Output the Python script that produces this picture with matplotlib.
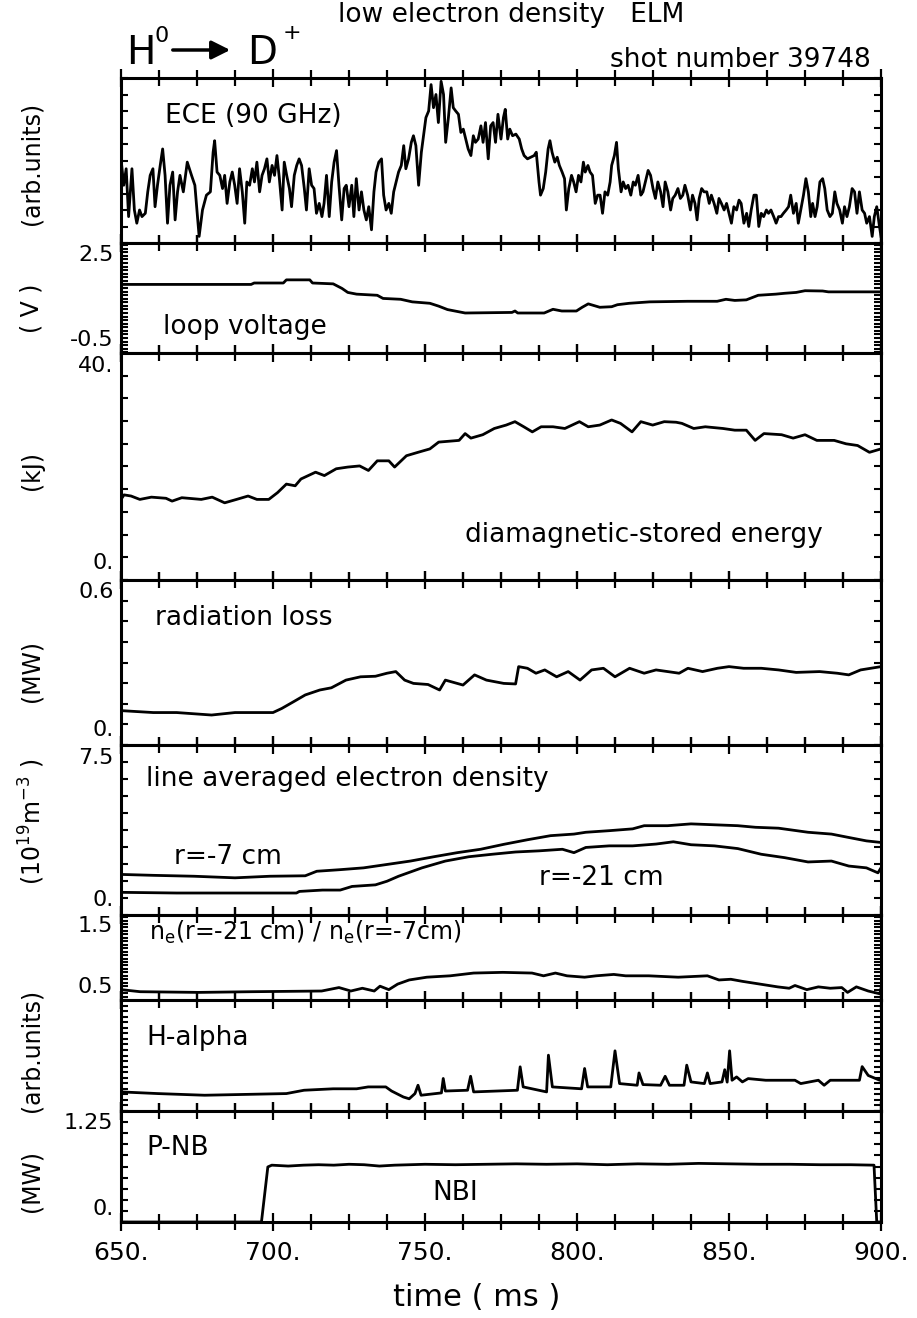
import numpy as np
import matplotlib
matplotlib.use('Agg')
from matplotlib import pyplot as plt
from matplotlib.ticker import MultipleLocator, NullLocator
from matplotlib.patches import FancyArrowPatch

# ---- data (time in ms, value) ----
ece = [(650.0, 5.1), (650.9, 3.5), (651.7, 4.5), (652.5, 1.6), (653.6, 4.5), (654.4, 2.0), (655.2, 1.2),
       (656.1, 2.0), (656.9, 1.6), (658.0, 1.8), (658.8, 3.1), (659.6, 4.1), (660.5, 4.5), (661.2, 2.2),
       (662.0, 3.5), (662.9, 4.7), (663.7, 5.7), (664.5, 4.1), (665.3, 1.2), (666.1, 3.5), (667.0, 4.3),
       (667.8, 1.4), (668.6, 3.1), (669.4, 4.1), (670.5, 3.1), (671.8, 4.9), (673.2, 4.1), (674.3, 3.5),
       (675.7, 0.4), (676.8, 2.0), (678.1, 2.9), (679.4, 3.1), (680.3, 5.5), (680.8, 6.2), (681.6, 4.3),
       (682.5, 4.1), (683.4, 3.3), (684.1, 4.1), (684.9, 2.4), (685.8, 3.7), (686.6, 4.3), (687.4, 3.5),
       (688.2, 2.4), (689.0, 4.5), (689.9, 3.1), (690.7, 1.2), (691.4, 3.7), (692.3, 3.5), (693.2, 4.5),
       (693.9, 3.7), (694.7, 4.9), (695.6, 3.1), (696.4, 4.1), (697.2, 4.5), (698.0, 5.1), (698.8, 3.7),
       (699.7, 4.7), (700.5, 4.1), (701.3, 5.3), (702.1, 3.9), (703.0, 2.0), (703.7, 4.9), (704.5, 4.1),
       (705.4, 3.3), (706.1, 2.2), (707.0, 4.1), (707.8, 4.7), (708.6, 5.1), (709.4, 4.7), (710.3, 3.3),
       (711.0, 2.0), (711.9, 4.5), (712.7, 3.5), (713.5, 3.3), (714.3, 1.8), (715.2, 2.4), (716.1, 1.6),
       (716.8, 2.4), (717.6, 4.1), (718.5, 1.6), (719.3, 3.7), (720.1, 4.9), (720.9, 5.6), (721.7, 3.5),
       (722.6, 1.4), (723.4, 3.3), (724.1, 3.5), (725.0, 2.2), (725.9, 3.5), (726.6, 1.6), (727.4, 3.9),
       (728.3, 2.0), (729.1, 3.1), (729.9, 2.0), (730.7, 1.4), (731.5, 2.2), (732.4, 0.8), (733.2, 3.1),
       (733.9, 4.3), (734.8, 4.9), (735.7, 5.1), (736.4, 2.9), (737.2, 2.0), (738.1, 2.4), (738.9, 1.8),
       (739.7, 3.1), (740.5, 3.7), (741.3, 4.3), (742.2, 4.7), (743.0, 5.9), (743.7, 4.5), (744.6, 5.1),
       (745.5, 6.1), (746.2, 6.5), (747.0, 5.9), (747.9, 3.5), (748.8, 5.5), (749.5, 6.5), (750.3, 7.6),
       (751.2, 8.0), (752.0, 9.6), (752.8, 8.2), (753.6, 9.0), (754.4, 7.3), (755.3, 9.8), (756.1, 9.0),
       (756.8, 6.1), (757.7, 7.6), (758.6, 9.4), (759.3, 8.2), (760.1, 8.0), (761.0, 7.8), (761.8, 6.7),
       (762.6, 6.9), (763.4, 6.3), (764.2, 5.7), (765.1, 5.3), (765.9, 6.5), (766.6, 6.1), (767.5, 6.3),
       (768.4, 7.1), (769.1, 6.1), (769.9, 7.3), (770.8, 5.1), (771.6, 7.1), (772.4, 7.3), (773.2, 6.1),
       (774.0, 7.8), (775.0, 6.3), (775.8, 7.6), (776.4, 8.1), (777.2, 6.3), (777.9, 6.9), (778.8, 6.5),
       (779.9, 6.6), (781.0, 6.3), (781.8, 5.7), (782.6, 5.3), (783.7, 5.1), (784.8, 5.2), (785.9, 5.3),
       (786.6, 5.5), (787.5, 3.7), (788.0, 2.9), (788.9, 3.3), (789.7, 4.3), (790.5, 5.7), (791.1, 6.2),
       (791.8, 5.5), (792.7, 4.9), (793.5, 5.2), (794.2, 4.7), (795.1, 4.3), (795.9, 3.9), (796.5, 2.0),
       (797.3, 3.3), (798.2, 4.1), (798.9, 3.7), (799.7, 3.1), (800.5, 4.1), (801.3, 3.7), (802.1, 4.9),
       (802.7, 4.3), (803.6, 4.7), (804.3, 4.3), (805.1, 4.1), (806.0, 2.4), (806.8, 2.9), (807.6, 2.9),
       (808.4, 1.8), (809.2, 3.1), (810.1, 2.9), (810.9, 3.7), (811.4, 4.7), (812.3, 5.3), (813.0, 6.1),
       (813.6, 4.5), (814.5, 3.1), (815.2, 3.7), (816.0, 3.3), (816.8, 3.5), (817.7, 2.9), (818.5, 3.7),
       (819.2, 3.5), (820.1, 4.1), (821.0, 2.9), (821.7, 3.1), (822.5, 3.7), (823.4, 4.4), (824.2, 4.1),
       (825.0, 3.3), (825.8, 2.7), (826.6, 3.7), (827.5, 3.1), (828.3, 2.2), (829.0, 3.7), (829.9, 3.1),
       (830.8, 2.0), (831.5, 2.7), (832.3, 2.9), (833.2, 3.3), (834.0, 2.7), (834.8, 2.9), (835.5, 3.5),
       (836.4, 2.9), (837.3, 2.0), (838.0, 2.9), (838.8, 2.4), (839.5, 1.4), (840.2, 2.7), (841.0, 3.3),
       (841.8, 3.1), (842.7, 3.1), (843.5, 2.4), (844.2, 2.9), (845.1, 2.4), (846.0, 1.8), (846.7, 2.7),
       (847.5, 2.4), (848.4, 2.0), (849.2, 2.4), (850.0, 1.8), (850.8, 1.2), (851.6, 2.2), (852.5, 2.0),
       (853.3, 2.6), (854.0, 2.4), (854.9, 1.2), (855.8, 1.8), (856.5, 1.0), (857.3, 2.0), (858.2, 2.9),
       (859.0, 2.9), (859.8, 1.0), (860.6, 1.8), (861.4, 1.6), (862.3, 2.0), (863.0, 1.8), (863.8, 2.0),
       (864.7, 1.6), (865.5, 1.2), (866.3, 1.6), (867.1, 1.6), (867.9, 1.8), (868.8, 2.0), (869.6, 2.2),
       (870.3, 2.9), (871.2, 1.8), (872.1, 2.4), (872.8, 1.2), (873.6, 2.0), (874.5, 2.9), (875.3, 3.9),
       (876.1, 3.1), (876.9, 1.6), (877.5, 2.4), (878.3, 1.6), (879.0, 2.2), (879.9, 3.7), (880.8, 3.9),
       (881.5, 3.3), (882.3, 2.0), (883.2, 1.6), (884.0, 1.8), (884.8, 3.1), (885.5, 2.4), (886.4, 2.0),
       (887.3, 1.2), (888.0, 2.2), (888.8, 1.6), (889.6, 2.2), (890.5, 3.3), (891.3, 3.1), (892.1, 1.8),
       (892.9, 3.1), (893.8, 2.0), (894.6, 1.8), (895.3, 1.2), (896.2, 1.6), (897.1, 0.4), (897.8, 1.6),
       (898.6, 2.2), (899.5, 1.0), (900.0, 0.4)]

loop_v = [(650, 1.50), (692.8, 1.50), (693.8, 1.55), (703.4, 1.55), (704.4, 1.66), (712.1, 1.66),
          (713.0, 1.55), (719.8, 1.52), (722.7, 1.36), (724.6, 1.22), (727.5, 1.16), (734.3, 1.12),
          (736.2, 1.01), (742.0, 0.98), (745.8, 0.89), (751.6, 0.84), (754.5, 0.74), (757.4, 0.62),
          (763.2, 0.50), (778.6, 0.52), (779.6, 0.57), (780.5, 0.50), (789.2, 0.50), (792.1, 0.63),
          (795.0, 0.57), (799.8, 0.57), (801.7, 0.70), (803.7, 0.82), (807.5, 0.70), (811.4, 0.72),
          (813.3, 0.79), (817.2, 0.84), (823.9, 0.89), (836.4, 0.91), (846.1, 0.91), (849.0, 0.98),
          (851.9, 0.94), (855.7, 0.96), (859.6, 1.12), (865.4, 1.16), (868.3, 1.19), (872.1, 1.22),
          (875.0, 1.28), (880.8, 1.27), (882.7, 1.24), (900, 1.24)]

w_dia = [(650, 14.2), (651.0, 15.0), (653.3, 14.8), (656.2, 14.2), (660, 14.6), (664.8, 14.4), (666.8, 13.9),
         (670, 14.5), (676.4, 14.2), (680, 14.6), (684.1, 13.6), (688.0, 14.2), (691.8, 14.8), (694.7, 14.2),
         (698.6, 14.2), (701.5, 15.4), (704.4, 16.9), (707.3, 16.6), (709.2, 17.8), (714.0, 19.0),
         (716.9, 18.4), (720.8, 19.6), (724.6, 19.9), (728.5, 20.1), (731.4, 19.3), (734.3, 21.0),
         (738.1, 21.0), (740.0, 19.9), (743.9, 21.9), (747.7, 22.5), (751.6, 23.1), (754.5, 24.3),
         (761.2, 24.6), (763.2, 25.8), (765.1, 25.0), (769.0, 25.6), (772.8, 26.7), (776.7, 27.3),
         (779.6, 27.9), (782.5, 27.0), (785.3, 26.1), (788.2, 27.0), (792.1, 27.0), (796.0, 26.7),
         (800.8, 27.9), (803.7, 27.0), (807.5, 27.3), (811.4, 28.2), (814.3, 27.6), (818.1, 26.1),
         (821.0, 27.9), (824.9, 27.3), (828.7, 27.9), (832.6, 27.8), (834.5, 27.6), (838.4, 26.7),
         (842.2, 27.0), (848.0, 26.7), (851.9, 26.4), (855.7, 26.4), (858.6, 24.6), (861.5, 25.8),
         (867.3, 25.6), (871.1, 25.0), (875.0, 25.6), (878.9, 24.6), (884.6, 24.6), (888.5, 24.0),
         (892.3, 23.7), (896.2, 22.5), (900, 23.1)]

p_rad = [(650, 0.125), (660.6, 0.118), (668.3, 0.118), (679.8, 0.109), (687.5, 0.118), (700.0, 0.118),
         (702.9, 0.133), (706.7, 0.157), (710.6, 0.182), (715.4, 0.200), (719.2, 0.208), (724.0, 0.236),
         (728.8, 0.248), (733.7, 0.250), (737.5, 0.261), (740.4, 0.267), (743.3, 0.236), (746.2, 0.224),
         (751.0, 0.220), (754.8, 0.200), (756.7, 0.236), (762.5, 0.218), (766.3, 0.255), (770.2, 0.236),
         (775.9, 0.224), (779.8, 0.222), (780.8, 0.285), (783.7, 0.279), (786.5, 0.261), (789.4, 0.273),
         (793.3, 0.248), (797.1, 0.267), (801.0, 0.236), (804.8, 0.273), (808.7, 0.279), (812.5, 0.248),
         (817.3, 0.279), (822.1, 0.261), (826.0, 0.273), (829.8, 0.267), (833.6, 0.261), (836.5, 0.279),
         (841.3, 0.267), (846.2, 0.279), (850.0, 0.285), (854.8, 0.279), (860.6, 0.279), (866.3, 0.273),
         (872.1, 0.264), (879.8, 0.267), (885.6, 0.261), (889.4, 0.255), (893.3, 0.273), (900, 0.285)]

ne_r7 = [(650, 1.79), (660.6, 1.75), (674.0, 1.71), (687.5, 1.64), (699.0, 1.71), (710.6, 1.73),
         (714.4, 1.93), (722.1, 2.00), (729.8, 2.08), (737.5, 2.23), (745.2, 2.38), (752.9, 2.57),
         (760.6, 2.75), (768.3, 2.90), (776.0, 3.12), (783.7, 3.32), (791.3, 3.50), (799.0, 3.57),
         (802.9, 3.65), (810.6, 3.72), (818.3, 3.80), (822.1, 3.94), (829.8, 3.94), (837.5, 4.02),
         (845.2, 3.98), (852.9, 3.94), (858.7, 3.87), (866.3, 3.83), (876.0, 3.65), (883.7, 3.57),
         (889.4, 3.42), (895.2, 3.27), (900, 3.20)]

ne_r21 = [(650, 1.00), (668.3, 0.97), (687.5, 0.97), (707.7, 0.97), (708.7, 1.04), (716.3, 1.10),
          (722.1, 1.10), (726.0, 1.26), (733.7, 1.33), (737.5, 1.49), (741.3, 1.71), (749.0, 2.08),
          (756.7, 2.38), (764.4, 2.57), (772.1, 2.68), (779.8, 2.78), (787.5, 2.83), (795.2, 2.90),
          (799.0, 2.75), (802.9, 2.98), (810.6, 3.05), (818.3, 3.05), (826.0, 3.13), (831.7, 3.23),
          (837.5, 3.10), (845.2, 3.05), (852.9, 2.93), (860.6, 2.68), (868.3, 2.53), (876.0, 2.34),
          (883.7, 2.38), (889.4, 2.16), (895.2, 2.08), (899.0, 1.86), (900, 2.08)]

ne_ratio = [(650, 0.60), (656.3, 0.57), (675.6, 0.56), (692.9, 0.57), (716.0, 0.58), (721.7, 0.63),
            (725.6, 0.58), (729.4, 0.62), (733.3, 0.58), (735.2, 0.65), (738.1, 0.60), (741.0, 0.68),
            (744.8, 0.74), (750.6, 0.78), (758.3, 0.80), (766.0, 0.84), (775.6, 0.85), (785.2, 0.84),
            (789.0, 0.80), (792.9, 0.84), (796.7, 0.80), (802.5, 0.78), (806.3, 0.80), (812.1, 0.82),
            (816.0, 0.80), (823.6, 0.80), (833.3, 0.78), (842.9, 0.80), (846.7, 0.74), (850.6, 0.75),
            (854.4, 0.72), (860.2, 0.68), (866.0, 0.64), (869.8, 0.62), (871.7, 0.66), (875.6, 0.60),
            (879.4, 0.64), (883.3, 0.62), (887.1, 0.63), (889.0, 0.56), (891.9, 0.64), (895.8, 0.58),
            (899.6, 0.54), (900, 0.62)]

h_alpha = [(650, 1.72), (662.1, 1.57), (677.5, 1.42), (704.4, 1.57), (710.2, 1.87), (719.8, 2.0),
           (727.5, 2.0), (731.3, 2.17), (737.1, 2.17), (739.0, 1.8), (742.9, 1.26), (744.8, 1.1),
           (746.7, 1.57), (747.7, 2.32), (748.7, 1.42), (755.4, 1.63), (756.0, 2.93), (756.7, 1.8),
           (764.0, 1.87), (765.0, 3.13), (766.0, 1.72), (780.4, 1.87), (781.3, 3.98), (782.3, 2.17),
           (790.0, 1.72), (790.6, 5.03), (791.9, 2.17), (801.5, 2.0), (802.5, 3.83), (803.5, 2.17),
           (811.1, 2.17), (812.5, 5.42), (814.0, 2.47), (819.8, 2.32), (820.4, 3.43), (821.7, 2.38),
           (827.5, 2.32), (829.0, 3.13), (830.4, 2.32), (835.2, 2.32), (836.1, 4.13), (837.5, 2.62),
           (841.9, 2.47), (842.9, 3.43), (843.8, 2.47), (847.7, 2.62), (848.6, 3.72), (849.4, 2.6),
           (850.2, 5.42), (851.0, 2.77), (852.5, 3.07), (854.4, 2.62), (856.3, 2.92), (862.1, 2.77),
           (871.7, 2.77), (873.6, 2.47), (879.4, 2.77), (881.3, 2.32), (883.3, 2.77), (892.9, 2.77),
           (893.8, 4.0), (895.8, 3.2), (899.6, 2.77), (900, 2.77)]

p_nb = [(650, 0.0), (696.2, 0.0), (698.3, 0.62), (699.6, 0.64), (705, 0.63), (710, 0.64), (715, 0.645),
        (720, 0.64), (725, 0.65), (730, 0.645), (735, 0.63), (740, 0.64), (750, 0.65), (760, 0.645),
        (770, 0.65), (780, 0.655), (790, 0.65), (800, 0.655), (810, 0.645), (820, 0.655), (830, 0.65),
        (840, 0.66), (850, 0.655), (860, 0.65), (870, 0.65), (880, 0.645), (890, 0.645), (897.7, 0.64),
        (898.6, 0.0), (900, 0.0)]

time_ticks = [650, 700, 750, 800, 850, 900]

# y ranges of the panels
ece_lim = (0, 10)
loop_lim = (-0.9, 2.95)
wdia_lim = (0, 40)
prad_lim = (0, 0.6)
ne_lim = (0, 7.5)
ratio_lim = (0.45, 1.68)
ha_lim = (0, 10)
pnb_lim = (0, 1.25)

# ---- layout (pixels of the 917 x 1318 figure) ----
W, H = 917, 1318
L, R = 121, 881
edges = [78, 243, 353, 580, 745, 915, 1000, 1111, 1222]
FS = 19

fig = plt.figure(figsize=(W / 100, H / 100), dpi=100)
LW = 2.0


def add_panel(i, ylim, minor):
    top, bot = edges[i], edges[i + 1]
    ax = fig.add_axes([L / W, 1 - bot / H, (R - L) / W, (bot - top) / H])
    ax.set_xlim(650, 900)
    ax.set_ylim(*ylim)
    for s in ax.spines.values():
        s.set_linewidth(2.2)
    ax.xaxis.set_major_locator(MultipleLocator(50))
    ax.xaxis.set_minor_locator(MultipleLocator(12.5))
    ax.tick_params(axis='x', which='both', direction='inout', top=True, bottom=True,
                   width=1.6, labelbottom=False)
    ax.tick_params(axis='x', which='major', length=13)
    ax.tick_params(axis='x', which='minor', length=11)
    ax.yaxis.set_major_locator(NullLocator())
    ax.yaxis.set_minor_locator(MultipleLocator(minor))
    ax.tick_params(axis='y', which='minor', direction='in', left=True, right=True,
                   length=5, width=1.5)
    return ax


def end_labels(ax, lo, hi):
    ax.text(-0.01, 0.985, hi, transform=ax.transAxes, ha='right', va='top', fontsize=16)
    ax.text(-0.01, 0.03, lo, transform=ax.transAxes, ha='right', va='bottom', fontsize=16)


def draw(ax, series):
    t, v = np.array(series).T
    ax.plot(t, v, color='black', lw=LW)


def label(ax, x, y, s, **kw):
    kw.setdefault('fontsize', FS)
    ax.text(x, y, s, transform=ax.transAxes, va='center', **kw)


ax1 = add_panel(0, ece_lim, 1)
draw(ax1, ece)
label(ax1, 0.058, 0.77, 'ECE (90 GHz)')

ax2 = add_panel(1, loop_lim, 0.125)
draw(ax2, loop_v)
end_labels(ax2, '-0.5', '2.5')
label(ax2, 0.055, 0.24, 'loop voltage')

ax3 = add_panel(2, wdia_lim, 4)
draw(ax3, w_dia)
end_labels(ax3, '0.', '40.')
label(ax3, 0.452, 0.2, 'diamagnetic-stored energy')

ax4 = add_panel(3, prad_lim, 0.075)
draw(ax4, p_rad)
end_labels(ax4, '0.', '0.6')
label(ax4, 0.045, 0.77, 'radiation loss')

ax5 = add_panel(4, ne_lim, 0.75)
draw(ax5, ne_r7)
draw(ax5, ne_r21)
end_labels(ax5, '0.', '7.5')
label(ax5, 0.033, 0.8, 'line averaged electron density')
label(ax5, 0.07, 0.34, 'r=-7 cm')
label(ax5, 0.55, 0.22, 'r=-21 cm')

ax6 = add_panel(5, ratio_lim, 0.05)
draw(ax6, ne_ratio)
end_labels(ax6, '0.5', '1.5')
label(ax6, 0.037, 0.79, r'n$_{\rm e}$(r=-21 cm) / n$_{\rm e}$(r=-7cm)', fontsize=17)

ax7 = add_panel(6, ha_lim, 0.5)
draw(ax7, h_alpha)
label(ax7, 0.033, 0.66, 'H-alpha')

ax8 = add_panel(7, pnb_lim, 0.125)
draw(ax8, p_nb)
end_labels(ax8, '0.', '1.25')
label(ax8, 0.033, 0.67, 'P-NB')
label(ax8, 0.41, 0.26, 'NBI')
ax8.set_xticks(time_ticks)
ax8.set_xticklabels(['%d.' % t for t in time_ticks], fontsize=18)
ax8.tick_params(axis='x', which='major', labelbottom=True, pad=7)

fig.text(477 / W, 1 - 1297 / H, 'time ( ms )', fontsize=22, ha='center', va='center')

# unit labels on the left
for txt, yc in [('(arb.units)', 163), ('( V )', 308), ('(kJ)', 471), ('(MW)', 671),
                (r'(10$^{19}$m$^{-3}$ )', 822), ('(arb.units)', 1050), ('(MW)', 1181)]:
    fig.text(32 / W, 1 - yc / H, txt, rotation=90, ha='center', va='center', fontsize=17)

# header
fig.text(338 / W, 1 - 15 / H, 'low electron density   ELM', fontsize=FS, va='center')
fig.text(871 / W, 1 - 60 / H, 'shot number 39748', fontsize=FS, va='center', ha='right')
fig.text(126 / W, 1 - 53 / H, 'H', fontsize=28, va='center')
fig.text(155 / W, 1 - 36 / H, '0', fontsize=16, va='center')
fig.text(247 / W, 1 - 53 / H, 'D', fontsize=28, va='center')
fig.text(283 / W, 1 - 33 / H, '+', fontsize=16, va='center')
fig.add_artist(FancyArrowPatch((170 / W, 1 - 50 / H), (233 / W, 1 - 50 / H), transform=fig.transFigure,
                               arrowstyle='-|>', mutation_scale=28, lw=2.5, color='black'))

fig.savefig('out.png', dpi=100)
